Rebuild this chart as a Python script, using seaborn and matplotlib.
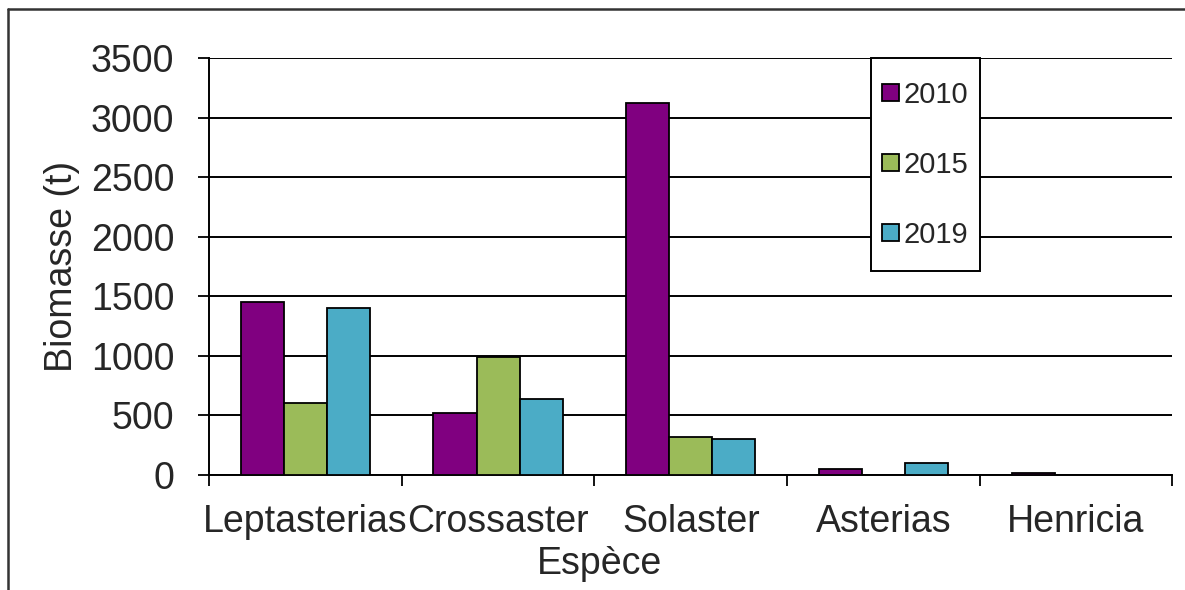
import matplotlib
matplotlib.use("Agg")
import matplotlib.pyplot as plt
from matplotlib.lines import Line2D
from matplotlib.patches import Rectangle
import seaborn as sns
import pandas as pd

# Biomass (tonnes) of sea-star genera by survey year
especes = ["Leptasterias", "Crossaster", "Solaster", "Asterias", "Henricia"]
annees = ["2010", "2015", "2019"]
biomasse_2010 = [1450, 520, 3120, 48, 15]
biomasse_2015 = [600, 990, 315, 0, 0]
biomasse_2019 = [1400, 635, 300, 96, 0]
couleurs = ["#800080", "#9BBB59", "#4BACC6"]
yticks = [0, 500, 1000, 1500, 2000, 2500, 3000, 3500]

rows = []
for annee, vals in zip(annees, [biomasse_2010, biomasse_2015, biomasse_2019]):
    for esp, v in zip(especes, vals):
        rows.append({"Espèce": esp, "Année": annee, "Biomasse": v})
df = pd.DataFrame(rows)

sns.set_style("white")
plt.rcParams["font.family"] = ["Liberation Sans", "DejaVu Sans"]

W, H = 1185, 590
fig = plt.figure(figsize=(W / 100, H / 100), dpi=100)
ax = fig.add_axes([209 / W, 1 - 474.7 / H, (1172.4 - 209) / W, (474.7 - 58.2) / H])

sns.barplot(data=df, x="Espèce", y="Biomasse", hue="Année", order=especes,
            hue_order=annees, palette=couleurs, width=0.67, edgecolor="black",
            linewidth=1.3, saturation=1, errorbar=None, ax=ax, zorder=3)

ax.set_ylim(0, 3500)
ax.set_xlim(-0.5, len(especes) - 0.5)
ax.set_yticks(yticks)
ax.set_yticklabels([str(t) for t in yticks])
ax.yaxis.grid(True, color="black", linewidth=1.4, zorder=0)
ax.set_axisbelow(True)

# category boundaries carry the tick marks, centres carry the names
ax.set_xticks([i - 0.5 for i in range(len(especes) + 1)])
ax.set_xticklabels([])
ax.set_xticks(range(len(especes)), minor=True)
ax.set_xticklabels(especes, minor=True)
ax.tick_params(axis="x", which="major", direction="out", length=8, width=1.3,
               color="black", bottom=True)
ax.tick_params(axis="x", which="minor", length=0, pad=21, labelsize=27)
ax.tick_params(axis="y", direction="out", length=8, width=1.3, color="black",
               left=True, pad=17, labelsize=27)

for side in ["top", "right"]:
    ax.spines[side].set_visible(False)
for side in ["left", "bottom"]:
    ax.spines[side].set_color("black")
    ax.spines[side].set_linewidth(1.4)

ax.set_xlabel("Espèce", fontsize=27)
ax.xaxis.set_label_coords(600 / W, 1 - 574.3 / H, transform=fig.transFigure)
ax.xaxis.label.set_verticalalignment("baseline")
ax.set_ylabel("Biomasse (t)", fontsize=27, labelpad=8)

# legend box
ax.add_patch(Rectangle((871 / W, 1 - 271 / H), (980 - 871) / W, (271 - 57.7) / H,
                       transform=fig.transFigure, facecolor="white",
                       edgecolor="black", linewidth=1.4, zorder=4, clip_on=False))
leg = ax.legend(loc="upper left", bbox_to_anchor=(882 / W, 1 - 81 / H),
                bbox_transform=fig.transFigure, borderaxespad=0, borderpad=0,
                fontsize=21, handlelength=0.57, handleheight=0.55,
                handletextpad=0.17, labelspacing=1.44, frameon=False, title=None)
leg.set_zorder(5)

# outer frame lines
fig.add_artist(Line2D([8 / W, 8 / W], [0, 1 - 9 / H], color="#333333",
                      linewidth=1.8, transform=fig.transFigure))
fig.add_artist(Line2D([8 / W, 1], [1 - 9 / H, 1 - 9 / H], color="#333333",
                      linewidth=1.8, transform=fig.transFigure))

fig.savefig("out.png", dpi=100)
